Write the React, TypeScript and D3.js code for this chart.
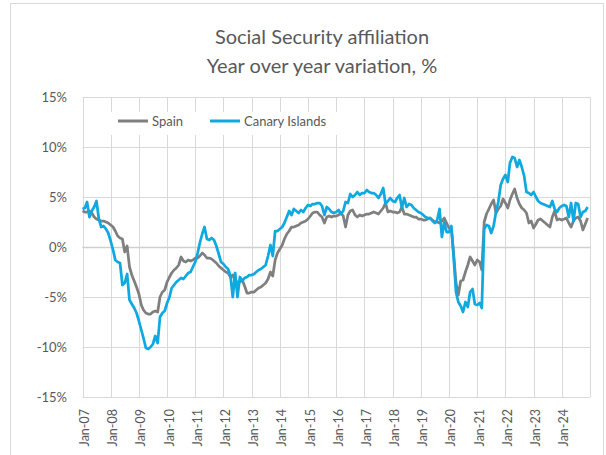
import * as React from 'react';
import * as d3 from 'd3';

// monthly year-over-year change (%), Jan-07 .. Dec-24
const spain: number[] = [
  3.6, 3.5, 3.5, 3.6, 3.4, 3.0, 2.8, 2.7, 2.6, 2.6, 2.5, 2.4, // 2007
  2.2, 2.0, 1.6, 1.1, 0.9, 0.8, -0.5, 0.1, -2.0, -2.8, -3.4, -4.0, // 2008
  -4.7, -5.8, -6.3, -6.6, -6.7, -6.7, -6.5, -6.4, -6.5, -5.0, -4.5, -4.3, // 2009
  -3.5, -3.0, -2.6, -2.3, -2.1, -1.8, -1.0, -1.4, -1.5, -1.3, -1.4, -1.3, // 2010
  -1.1, -1.1, -0.9, -0.6, -0.8, -1.1, -1.1, -1.2, -1.4, -1.6, -1.9, -2.1, // 2011
  -2.3, -2.5, -2.6, -3.0, -2.8, -3.4, -3.5, -3.5, -3.3, -3.9, -4.6, -4.6, // 2012
  -4.5, -4.5, -4.3, -4.1, -4.0, -3.8, -3.6, -3.2, -2.5, -2.9, -1.3, -0.6, // 2013
  -0.2, 0.2, 0.8, 1.3, 1.6, 2.0, 2.0, 2.1, 2.2, 2.4, 2.5, 2.6, // 2014
  2.8, 3.1, 3.4, 3.5, 3.5, 3.2, 3.0, 2.4, 3.0, 3.1, 3.0, 3.1, // 2015
  3.1, 3.2, 3.4, 3.1, 2.0, 3.2, 3.6, 3.7, 3.2, 3.0, 3.2, 3.1, // 2016
  3.2, 3.3, 3.3, 3.4, 3.5, 3.4, 3.3, 3.6, 3.9, 4.4, 3.5, 3.6, // 2017
  3.5, 3.5, 3.4, 3.5, 4.0, 3.3, 3.3, 3.2, 3.1, 3.0, 3.0, 2.8, // 2018
  2.8, 2.7, 2.7, 2.8, 2.9, 2.7, 2.5, 2.5, 2.4, 2.6, 2.9, 2.4, // 2019
  1.9, 1.8, -0.6, -3.6, -4.8, -3.4, -3.3, -2.5, -1.8, -1.0, -1.4, -1.8, // 2020
  -1.3, -1.5, -2.3, 2.5, 3.3, 3.8, 4.3, 4.7, 3.4, 3.8, 4.1, 4.8, // 2021
  4.4, 3.9, 4.7, 5.3, 5.8, 4.9, 4.3, 3.9, 3.7, 3.4, 2.4, 2.6, // 2022
  1.9, 2.3, 2.7, 2.8, 2.6, 2.4, 2.2, 2.0, 3.0, 3.6, 2.7, 2.8, // 2023
  2.7, 2.8, 2.9, 2.4, 2.0, 2.6, 2.9, 3.0, 2.6, 1.7, 2.3, 2.9, // 2024
];

const canary: number[] = [
  3.8, 3.9, 4.5, 3.0, 3.6, 4.0, 4.6, 2.8, 2.0, 2.1, 1.8, 1.4, // 2007
  0.6, -0.3, -1.3, -1.5, -1.6, -3.8, -3.6, -2.7, -5.3, -5.7, -6.1, -6.6, // 2008
  -7.4, -8.3, -9.1, -10.1, -10.2, -10.0, -9.7, -8.9, -9.6, -7.0, -6.6, -6.4, // 2009
  -5.6, -5.0, -4.1, -3.8, -3.5, -3.3, -3.1, -3.2, -2.9, -2.6, -2.5, -2.0, // 2010
  -1.5, -0.6, 0.4, 1.3, 2.0, 0.8, 0.7, 0.9, 0.7, 0.1, -0.7, -1.5, // 2011
  -1.7, -2.0, -2.2, -2.9, -5.0, -2.6, -5.0, -3.0, -3.4, -3.1, -3.0, -2.8, // 2012
  -2.8, -2.7, -2.5, -2.3, -2.2, -2.0, -1.8, -0.9, 0.2, -0.9, 1.6, 1.6, // 2013
  1.8, 2.0, 2.4, 3.0, 3.6, 3.2, 3.8, 3.6, 3.4, 3.7, 3.5, 3.9, // 2014
  4.2, 4.1, 4.3, 4.3, 4.4, 4.4, 4.1, 3.2, 4.0, 3.8, 3.5, 3.4, // 2015
  3.5, 3.7, 3.3, 3.6, 4.5, 4.4, 5.3, 5.0, 5.2, 5.5, 5.2, 5.4, // 2016
  5.4, 5.7, 5.5, 5.4, 5.4, 5.2, 4.9, 5.3, 5.9, 4.3, 4.6, 4.9, // 2017
  4.6, 4.5, 4.9, 5.2, 3.9, 4.9, 4.0, 4.3, 4.2, 3.9, 3.7, 3.5, // 2018
  3.4, 3.2, 3.0, 2.9, 2.9, 2.6, 2.4, 2.7, 3.8, 1.0, 2.5, 1.5, // 2019
  1.5, 2.1, -1.0, -4.5, -5.5, -5.9, -6.5, -5.5, -6.0, -4.5, -4.2, -5.7, // 2020
  -5.8, -5.6, -6.1, 1.8, 2.2, 2.1, 1.4, 2.1, 3.5, 4.5, 6.2, 6.8, // 2021
  7.2, 6.5, 8.4, 9.0, 8.9, 8.0, 8.7, 8.0, 7.1, 5.5, 5.4, 5.2, // 2022
  5.5, 5.0, 4.6, 4.4, 4.3, 4.2, 4.1, 4.0, 4.6, 3.8, 3.5, 3.9, // 2023
  4.1, 4.2, 4.1, 3.0, 4.4, 2.6, 4.4, 4.3, 3.0, 3.5, 3.6, 4.0, // 2024
];

const yTicks = [15, 10, 5, 0, -5, -10, -15];
const seriesNames = ['Spain', 'Canary Islands'];
const titleLines = ['Social Security affiliation', 'Year over year variation, %'];

const W = 606, H = 455;
const left = 82.5, right = 590, top = 97, bottom = 397;
const textColor = '#595959';
const gridColor = '#d9d9d9';
const colors = ['#7f7f7f', '#0fa9e0'];
const font = 'Lato, "Open Sans", sans-serif';

const App: React.FC = () => {
  const svgRef = React.useRef<SVGSVGElement>(null);

  React.useEffect(() => {
    const svg = d3.select(svgRef.current);
    svg.selectAll('*').remove();

    const start = new Date(2007, 0, 1);
    const x = d3.scaleTime().domain([start, new Date(2025, 0, 1)]).range([left, right]);
    const y = d3.scaleLinear().domain([-15, 15]).range([bottom, top]);
    const years = d3.timeYear.range(start, new Date(2025, 0, 2));

    // outer chart border
    svg.append('rect')
      .attr('x', 10.5).attr('y', 3.5).attr('width', 593).attr('height', 470)
      .attr('fill', '#fff').attr('stroke', gridColor);

    // title
    svg.append('g').selectAll('text').data(titleLines).join('text')
      .attr('x', 322).attr('y', (_, i) => 44 + i * 29)
      .attr('text-anchor', 'middle')
      .attr('font-family', font).attr('font-size', 20)
      .attr('fill', textColor)
      .text(d => d);

    // gridlines
    const grid = svg.append('g').attr('stroke', gridColor).attr('stroke-width', 1);
    grid.selectAll('.h').data(yTicks).join('line')
      .attr('x1', left).attr('x2', right)
      .attr('y1', d => Math.round(y(d)) + 0.5).attr('y2', d => Math.round(y(d)) + 0.5);
    grid.selectAll('.v').data(years).join('line')
      .attr('x1', d => Math.round(x(d)) + 0.5).attr('x2', d => Math.round(x(d)) + 0.5)
      .attr('y1', top).attr('y2', bottom);

    // zero axis
    svg.append('line')
      .attr('x1', left).attr('x2', right)
      .attr('y1', Math.round(y(0)) + 0.5).attr('y2', Math.round(y(0)) + 0.5)
      .attr('stroke', '#cfcfcf').attr('stroke-width', 1.5);

    // y labels
    svg.append('g').selectAll('text').data(yTicks).join('text')
      .attr('x', 67).attr('y', d => y(d) + 4.5)
      .attr('text-anchor', 'end')
      .attr('font-family', font).attr('font-size', 13)
      .attr('fill', textColor)
      .text(d => `${d}%`);

    // x labels
    const fmt = d3.timeFormat('%b-%y');
    svg.append('g').selectAll('text').data(years.slice(0, -1)).join('text')
      .attr('transform', d => `translate(${x(d) + 6.5},409) rotate(-90)`)
      .attr('text-anchor', 'end')
      .attr('font-family', font).attr('font-size', 12.5)
      .attr('fill', textColor)
      .text(d => fmt(d));

    // legend
    svg.append('rect')
      .attr('x', 106).attr('y', 112).attr('width', 232).attr('height', 23)
      .attr('fill', '#fff');
    const legendX = [118, 210];
    seriesNames.forEach((name, i) => {
      svg.append('line')
        .attr('x1', legendX[i]).attr('x2', legendX[i] + 30)
        .attr('y1', 121).attr('y2', 121)
        .attr('stroke', colors[i]).attr('stroke-width', 3);
      svg.append('text')
        .attr('x', legendX[i] + 34).attr('y', 125.5)
        .attr('font-family', font).attr('font-size', 13)
        .attr('fill', textColor)
        .text(name);
    });

    // series
    const line = d3.line<number>()
      .x((_, i) => x(d3.timeMonth.offset(start, i)))
      .y(d => y(d));
    [spain, canary].forEach((vals, i) => {
      svg.append('path')
        .datum(vals)
        .attr('d', line)
        .attr('fill', 'none')
        .attr('stroke', colors[i])
        .attr('stroke-width', 2.75)
        .attr('stroke-linejoin', 'round');
    });
  }, []);

  return (
    <svg ref={svgRef} width={W} height={H}
      style={{ position: 'absolute', left: 0, top: 0, background: '#fff' }} />
  );
};

export default App;
